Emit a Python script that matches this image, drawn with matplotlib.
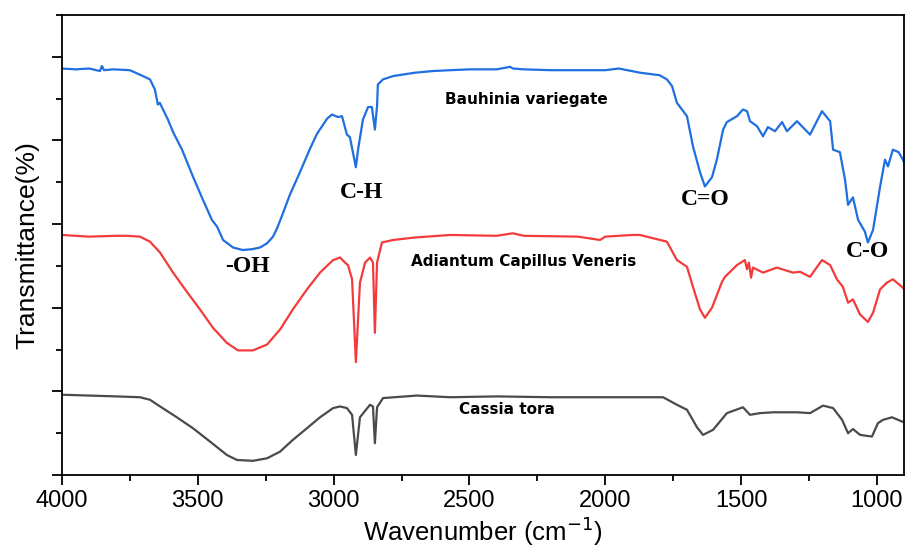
import matplotlib.pyplot as plt
from matplotlib.ticker import MultipleLocator, NullFormatter

# FTIR spectra, values (wavenumber, transmittance in arbitrary offset units)
bauhinia_wn = [4000, 3950, 3900, 3860, 3853, 3845, 3812, 3750, 3702, 3676, 3658, 3647, 3640,
               3628, 3610, 3591, 3558, 3518, 3481, 3448, 3429, 3407, 3370, 3334, 3300, 3271,
               3245, 3223, 3208, 3190, 3161, 3124, 3087, 3061, 3024, 3006, 2984, 2969, 2951,
               2940, 2918, 2910, 2892, 2873, 2859, 2848, 2840, 2837, 2818, 2781, 2700, 2634,
               2571, 2500, 2400, 2350, 2340, 2300, 2200, 2100, 2000, 1950, 1872, 1800, 1773,
               1754, 1736, 1699, 1677, 1651, 1633, 1607, 1589, 1566, 1552, 1515, 1493, 1478,
               1467, 1441, 1419, 1401, 1375, 1349, 1331, 1294, 1246, 1202, 1172, 1161, 1136,
               1117, 1106, 1088, 1069, 1044, 1033, 1014, 988, 970, 959, 941, 920, 904, 900]
bauhinia_t = [4.86, 4.85, 4.86, 4.83, 4.89, 4.84, 4.85, 4.84, 4.77, 4.73, 4.61, 4.43, 4.45,
              4.37, 4.25, 4.10, 3.89, 3.57, 3.29, 3.05, 2.97, 2.81, 2.72, 2.69, 2.70, 2.72,
              2.77, 2.85, 2.95, 3.10, 3.35, 3.62, 3.90, 4.08, 4.26, 4.31, 4.28, 4.29, 4.07,
              4.04, 3.68, 3.89, 4.25, 4.40, 4.40, 4.13, 4.41, 4.67, 4.73, 4.77, 4.81, 4.83,
              4.84, 4.85, 4.85, 4.88, 4.86, 4.85, 4.84, 4.84, 4.84, 4.86, 4.81, 4.78, 4.73,
              4.65, 4.45, 4.29, 3.93, 3.62, 3.45, 3.56, 3.77, 4.13, 4.22, 4.29, 4.37, 4.35,
              4.23, 4.17, 4.05, 4.16, 4.11, 4.22, 4.11, 4.23, 4.07, 4.35, 4.23, 3.89, 3.86,
              3.53, 3.23, 3.32, 3.05, 2.91, 2.78, 2.93, 3.45, 3.77, 3.69, 3.89, 3.86, 3.77,
              3.74]

adiantum_wn = [4000, 3900, 3800, 3761, 3713, 3676, 3639, 3591, 3540, 3492, 3444, 3393, 3352,
               3297, 3245, 3197, 3150, 3098, 3050, 3002, 2976, 2958, 2947, 2932, 2918, 2903,
               2884, 2866, 2855, 2848, 2840, 2822, 2781, 2700, 2571, 2400, 2340, 2300, 2100,
               2019, 2000, 1900, 1872, 1773, 1736, 1699, 1677, 1651, 1633, 1607, 1570, 1559,
               1515, 1486, 1478, 1471, 1463, 1456, 1419, 1368, 1309, 1283, 1246, 1202, 1172,
               1147, 1125, 1106, 1088, 1062, 1033, 1014, 988, 963, 941, 904, 900]
adiantum_t = [2.87, 2.85, 2.86, 2.86, 2.85, 2.79, 2.66, 2.42, 2.19, 1.98, 1.76, 1.58, 1.49,
              1.49, 1.56, 1.74, 1.98, 2.22, 2.42, 2.57, 2.60, 2.54, 2.51, 2.34, 1.35, 2.30,
              2.54, 2.60, 2.54, 1.70, 2.54, 2.78, 2.81, 2.84, 2.87, 2.86, 2.89, 2.86, 2.85,
              2.81, 2.85, 2.87, 2.87, 2.79, 2.57, 2.49, 2.25, 1.98, 1.88, 2.00, 2.31, 2.37,
              2.51, 2.57, 2.46, 2.54, 2.36, 2.48, 2.42, 2.48, 2.42, 2.43, 2.37, 2.57, 2.51,
              2.34, 2.25, 2.06, 2.10, 1.92, 1.83, 1.94, 2.22, 2.30, 2.34, 2.24, 2.22]

cassia_wn = [4000, 3900, 3800, 3713, 3676, 3639, 3577, 3518, 3455, 3393, 3356, 3297, 3245,
             3197, 3150, 3098, 3050, 3002, 2976, 2951, 2932, 2918, 2903, 2866, 2855, 2848,
             2840, 2818, 2693, 2571, 2400, 2200, 2000, 1787, 1736, 1699, 1662, 1640, 1603,
             1552, 1493, 1467, 1430, 1382, 1294, 1246, 1198, 1161, 1128, 1106, 1088, 1062,
             1018, 996, 977, 944, 900]
cassia_t = [0.96, 0.95, 0.94, 0.93, 0.90, 0.82, 0.69, 0.56, 0.40, 0.24, 0.18, 0.17, 0.20,
            0.28, 0.42, 0.56, 0.69, 0.80, 0.82, 0.80, 0.72, 0.24, 0.69, 0.84, 0.82, 0.38,
            0.81, 0.92, 0.95, 0.93, 0.94, 0.93, 0.93, 0.93, 0.84, 0.78, 0.57, 0.48, 0.54,
            0.74, 0.81, 0.72, 0.74, 0.75, 0.75, 0.74, 0.83, 0.80, 0.66, 0.50, 0.55, 0.48,
            0.46, 0.62, 0.66, 0.69, 0.63]

names = ["Bauhinia variegate", "Adiantum Capillus Veneris", "Cassia tora"]
name_pos = [(2290, 4.49), (2300, 2.55), (2362, 0.78)]
bands = ["-OH", "C-H", "C=O", "C-O"]
band_pos = [(3319, 2.49), (2899, 3.38), (1633, 3.29), (1036, 2.67)]

fig = plt.figure(figsize=(9.06, 5.55), dpi=100)
ax = fig.add_axes([0.0684, 0.1441, 0.9294, 0.8289])

ax.plot(bauhinia_wn, bauhinia_t, color="#1f6fe0", lw=1.6)
ax.plot(adiantum_wn, adiantum_t, color="#f23c3c", lw=1.6)
ax.plot(cassia_wn, cassia_t, color="#4a4a4a", lw=1.6)

for n, (x, y) in zip(names, name_pos):
    ax.text(x, y, n, ha="center", va="center", fontsize=11, fontweight="bold",
            family="DejaVu Sans")
for b, (x, y) in zip(bands, band_pos):
    ax.text(x, y, b, ha="center", va="center", fontsize=17, fontweight="bold",
            family="Liberation Serif")

ax.set_xlim(4000, 900)
ax.set_ylim(0, 5.5)
ax.xaxis.set_major_locator(MultipleLocator(500))
ax.xaxis.set_minor_locator(MultipleLocator(250))
ax.yaxis.set_major_locator(MultipleLocator(1))
ax.yaxis.set_minor_locator(MultipleLocator(0.5))
ax.yaxis.set_major_formatter(NullFormatter())
ax.tick_params(which="major", length=7, width=1.3, labelsize=17)
ax.tick_params(which="minor", length=4, width=1.3)
for s in ax.spines.values():
    s.set_linewidth(1.3)

ax.set_xlabel("Wavenumber (cm$^{-1}$)", fontsize=18.5, family="Liberation Sans", labelpad=2)
ax.set_ylabel("Transmittance(%)", fontsize=19, family="Liberation Sans", labelpad=6)
for lab in ax.get_xticklabels():
    lab.set_family("Liberation Sans")

fig.savefig("out.png", dpi=100)
